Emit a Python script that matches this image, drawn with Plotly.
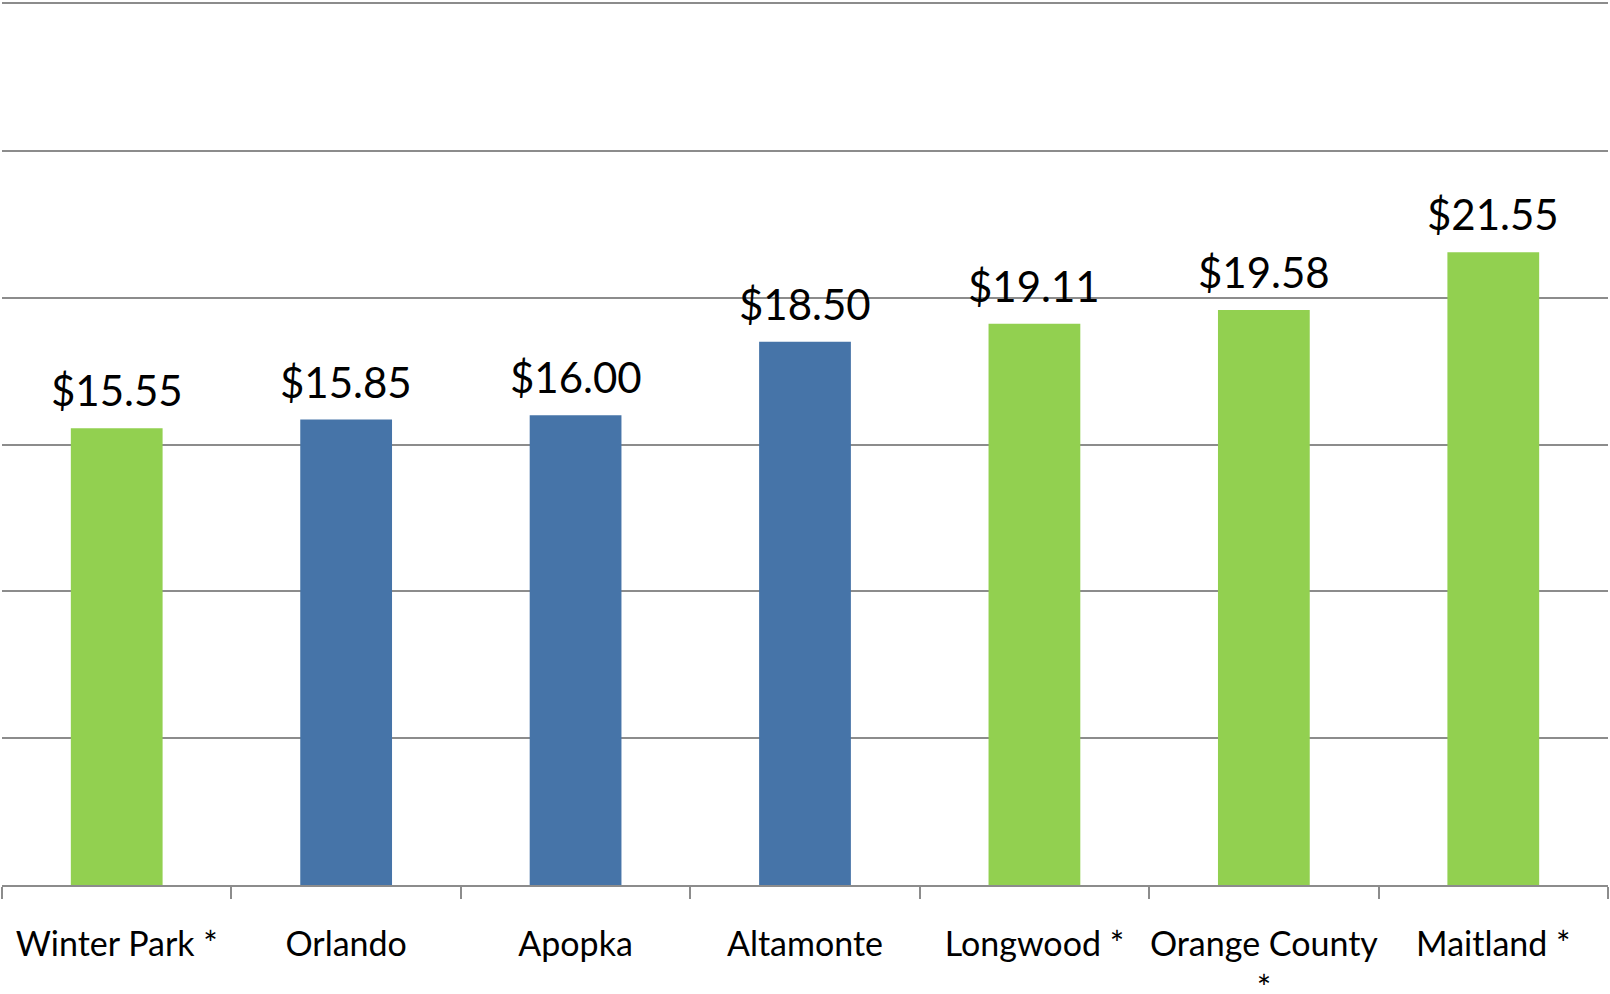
import plotly.graph_objects as go

categories = ["Winter Park *", "Orlando", "Apopka", "Altamonte", "Longwood *", "Orange County *", "Maitland *"]
tick_labels = ["Winter Park *", "Orlando", "Apopka", "Altamonte", "Longwood *", "Orange County<br>*", "Maitland *"]
values = [15.55, 15.85, 16.00, 18.50, 19.11, 19.58, 21.55]
value_labels = ["$15.55", "$15.85", "$16.00", "$18.50", "$19.11", "$19.58", "$21.55"]
bar_colors = ["#92D050", "#4674A8", "#4674A8", "#4674A8", "#92D050", "#92D050", "#92D050"]

fig = go.Figure()
fig.add_trace(go.Bar(
    x=categories, y=values,
    marker=dict(color=bar_colors, line=dict(width=0)),
    hoverinfo="skip",
))

for c, v, t in zip(categories, values, value_labels):
    fig.add_annotation(x=c, y=v, text=t, showarrow=False, yanchor="bottom",
                       yshift=11, font=dict(family="Lato", size=42, color="#000000"))

fig.update_layout(
    width=1610, height=994,
    margin=dict(l=2, r=2, t=4, b=109, autoexpand=False),
    paper_bgcolor="white", plot_bgcolor="white",
    bargap=0.6,
    showlegend=False,
    font=dict(family="Lato", color="#000000"),
)
fig.update_xaxes(
    type="category",
    tickvals=categories, ticktext=tick_labels,
    tickangle=0, automargin=False,
    tickson="boundaries", ticks="outside", ticklen=12, tickwidth=2, tickcolor="#8C8C8C",
    showline=True, mirror=True, linecolor="#8C8C8C", linewidth=2,
    showgrid=False,
    tickfont=dict(family="Lato", size=34, color="#000000"),
    ticklabelstandoff=28,
)
fig.update_yaxes(
    range=[0, 30], dtick=5, showticklabels=False, automargin=False,
    showgrid=True, gridcolor="#8C8C8C", gridwidth=2,
    zeroline=False, showline=False, ticks="",
)

fig.write_html("out.html")
